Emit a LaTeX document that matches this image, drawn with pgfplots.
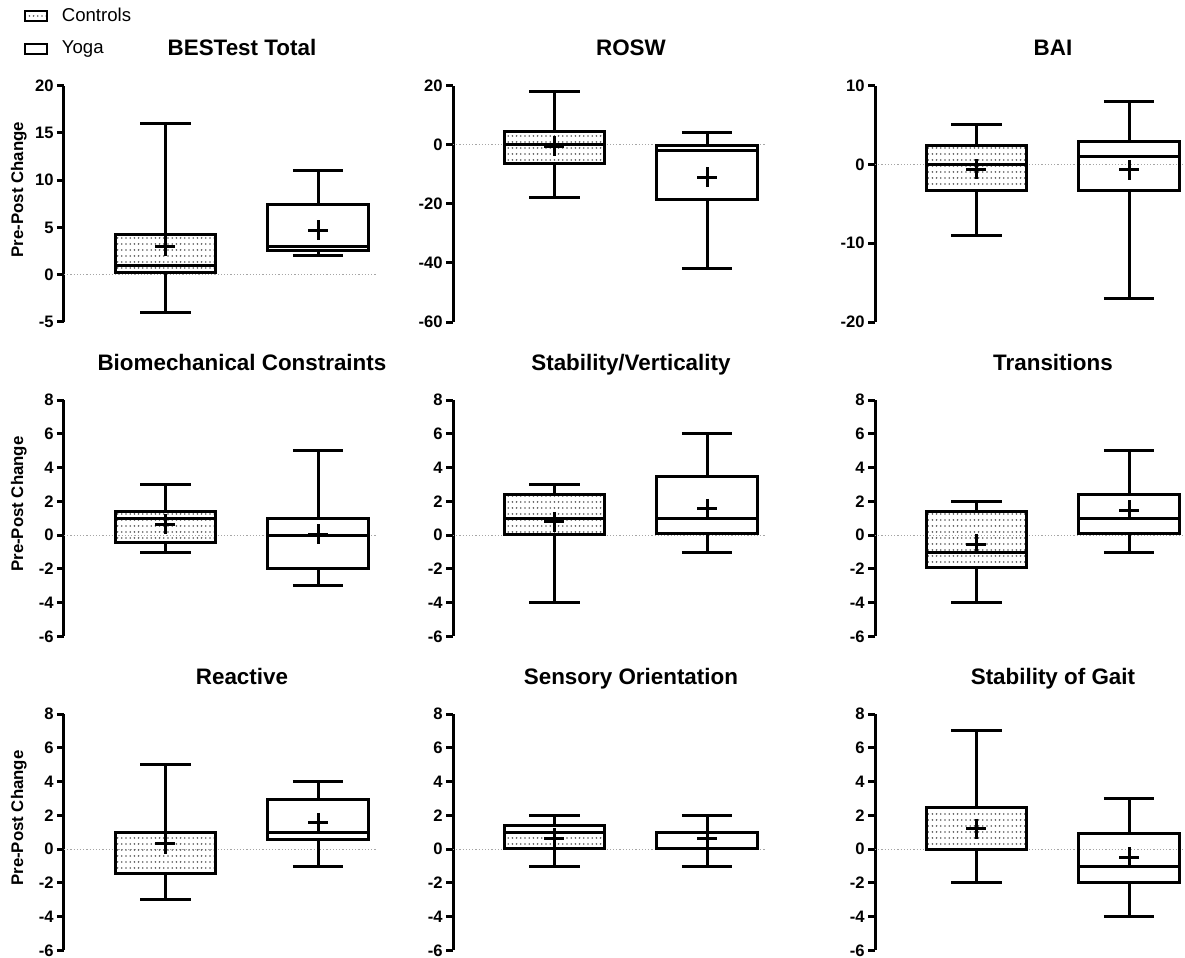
\documentclass[border=0pt]{standalone}
\usepackage{fontspec}
\setmainfont{Liberation Sans}
\usepackage{pgfplots}
\pgfplotsset{compat=1.18}
\usepgfplotslibrary{statistics}
\usetikzlibrary{patterns}
\pgfdeclarepatternformonly{mydots}{\pgfqpoint{-0.5pt}{-0.5pt}}{\pgfqpoint{0.5pt}{0.5pt}}{\pgfqpoint{2.1pt}{3pt}}{\pgfpathcircle{\pgfqpoint{0pt}{0pt}}{0.45pt}\pgfusepath{fill}}
\pgfplotsset{
  panel/.style={
    scale only axis, width=153.1pt, height=118.25pt,
    xmin=0.336, xmax=2.38, clip=false,
    axis x line=none, axis y line*=left,
    axis line style={line width=1.5pt, black},
    ytick style={line width=1.5pt, black},
    tick align=outside, major tick length=3.5pt,
    yticklabel style={font=\bfseries\fontsize{8.3}{9}\selectfont, inner sep=1.5pt},
    /pgf/number format/assume math mode=true,
    title style={at={(axis description cs:0.57,1)}, anchor=base, yshift=9pt, font=\bfseries\fontsize{11.2}{13}\selectfont},
    ylabel style={font=\bfseries\fontsize{8.4}{10}\selectfont, at={(axis description cs:-0.145,0.56)}, anchor=center},
    anchor=north west,
  },
  zeroline/.style={black!35, densely dotted, line width=0.6pt, forget plot},
  bpc/.style={black, solid, line width=1.5pt, forget plot,
    boxplot/draw direction=y,
    boxplot/box extend=0.66, boxplot/whisker extend=0.33,
    boxplot/every box/.style={pattern=mydots, pattern color=black!65},
    boxplot/every average/.style={/tikz/mark=+, /tikz/mark size=5pt, /tikz/line width=1.3pt, /tikz/solid}},
  bpy/.style={black, solid, line width=1.5pt, forget plot,
    boxplot/draw direction=y,
    boxplot/box extend=0.66, boxplot/whisker extend=0.33,
    boxplot/every average/.style={/tikz/mark=+, /tikz/mark size=5pt, /tikz/line width=1.3pt, /tikz/solid}},
}
\begin{document}
\begin{tikzpicture}
\useasboundingbox (0,0) rectangle (592.5pt,-479pt);
% ---------- Row 1 ----------
\begin{axis}[panel, width=156.1pt, at={(32pt,-42.75pt)}, ymin=-5, ymax=20, ytick={-5,0,5,10,15,20},
  title={BESTest Total}, ylabel={Pre-Post Change},
  legend style={at={(axis description cs:-0.149,1.352)}, anchor=north west, draw=none, fill=none,
    font=\fontsize{9.3}{11}\selectfont, row sep=7.5pt, column sep=6.5pt, nodes={inner sep=0.5pt}},
  legend cell align=left]
\addlegendimage{legend image code/.code={\draw[line width=1pt, pattern=mydots, pattern color=black!65] (0pt,-2.6pt) rectangle (11pt,2.6pt);}}
\addlegendentry{Controls}
\addlegendimage{legend image code/.code={\draw[line width=1pt] (0pt,-2.6pt) rectangle (11pt,2.6pt);}}
\addlegendentry{Yoga}
\addplot[zeroline] coordinates {(0.336,0) (2.38,0)};
\addplot[bpc, boxplot prepared={draw position=1, lower whisker=-4, lower quartile=0.2, median=1, upper quartile=4.3, upper whisker=16, average=3}] coordinates {};
\addplot[bpy, boxplot prepared={draw position=2, lower whisker=2, lower quartile=2.6, median=3, upper quartile=7.4, upper whisker=11, average=4.7}] coordinates {};
\end{axis}
\begin{axis}[panel, width=156.1pt, at={(226.5pt,-42.75pt)}, ymin=-60, ymax=20, ytick={-60,-40,-20,0,20}, title={ROSW}]
\addplot[zeroline] coordinates {(0.336,0) (2.38,0)};
\addplot[bpc, boxplot prepared={draw position=1, lower whisker=-18, lower quartile=-6.5, median=0, upper quartile=4.5, upper whisker=18, average=-0.6}] coordinates {};
\addplot[bpy, boxplot prepared={draw position=2, lower whisker=-42, lower quartile=-18.6, median=-2, upper quartile=-0.4, upper whisker=4, average=-11}] coordinates {};
\end{axis}
\begin{axis}[panel, width=156.1pt, at={(437.5pt,-42.75pt)}, ymin=-20, ymax=10, ytick={-20,-10,0,10}, title={BAI}]
\addplot[zeroline] coordinates {(0.336,0) (2.38,0)};
\addplot[bpc, boxplot prepared={draw position=1, lower whisker=-9, lower quartile=-3.3, median=0, upper quartile=2.4, upper whisker=5, average=-0.6}] coordinates {};
\addplot[bpy, boxplot prepared={draw position=2, lower whisker=-17, lower quartile=-3.3, median=1, upper quartile=2.9, upper whisker=8, average=-0.7}] coordinates {};
\end{axis}
% ---------- Row 2 ----------
\begin{axis}[panel, width=156.1pt, at={(32pt,-200pt)}, ymin=-6, ymax=8, ytick={-6,-4,...,8},
  title={Biomechanical Constraints}, ylabel={Pre-Post Change}]
\addplot[zeroline] coordinates {(0.336,0) (2.38,0)};
\addplot[bpc, boxplot prepared={draw position=1, lower whisker=-1, lower quartile=-0.43, median=1, upper quartile=1.42, upper whisker=3, average=0.63}] coordinates {};
\addplot[bpy, boxplot prepared={draw position=2, lower whisker=-3, lower quartile=-2, median=0, upper quartile=1, upper whisker=5, average=0.06}] coordinates {};
\end{axis}
\begin{axis}[panel, width=156.1pt, at={(226.5pt,-200pt)}, ymin=-6, ymax=8, ytick={-6,-4,...,8}, title={Stability/Verticality}]
\addplot[zeroline] coordinates {(0.336,0) (2.38,0)};
\addplot[bpc, boxplot prepared={draw position=1, lower whisker=-4, lower quartile=0.05, median=1, upper quartile=2.43, upper whisker=3, average=0.78}] coordinates {};
\addplot[bpy, boxplot prepared={draw position=2, lower whisker=-1, lower quartile=0.07, median=1, upper quartile=3.45, upper whisker=6, average=1.55}] coordinates {};
\end{axis}
\begin{axis}[panel, width=156.1pt, at={(437.5pt,-200pt)}, ymin=-6, ymax=8, ytick={-6,-4,...,8}, title={Transitions}]
\addplot[zeroline] coordinates {(0.336,0) (2.38,0)};
\addplot[bpc, boxplot prepared={draw position=1, lower whisker=-4, lower quartile=-1.94, median=-1, upper quartile=1.42, upper whisker=2, average=-0.55}] coordinates {};
\addplot[bpy, boxplot prepared={draw position=2, lower whisker=-1, lower quartile=0.07, median=1, upper quartile=2.43, upper whisker=5, average=1.48}] coordinates {};
\end{axis}
% ---------- Row 3 ----------
\begin{axis}[panel, width=156.1pt, at={(32pt,-357pt)}, ymin=-6, ymax=8, ytick={-6,-4,...,8},
  title={Reactive}, ylabel={Pre-Post Change}]
\addplot[zeroline] coordinates {(0.336,0) (2.38,0)};
\addplot[bpc, boxplot prepared={draw position=1, lower whisker=-3, lower quartile=-1.46, median=1, upper quartile=1, upper whisker=5, average=0.32}] coordinates {};
\addplot[bpy, boxplot prepared={draw position=2, lower whisker=-1, lower quartile=0.56, median=1, upper quartile=2.93, upper whisker=4, average=1.55}] coordinates {};
\end{axis}
\begin{axis}[panel, width=156.1pt, at={(226.5pt,-357pt)}, ymin=-6, ymax=8, ytick={-6,-4,...,8}, title={Sensory Orientation}]
\addplot[zeroline] coordinates {(0.336,0) (2.38,0)};
\addplot[bpc, boxplot prepared={draw position=1, lower whisker=-1, lower quartile=0.02, median=1, upper quartile=1.4, upper whisker=2, average=0.65}] coordinates {};
\addplot[bpy, boxplot prepared={draw position=2, lower whisker=-1, lower quartile=0.02, median=1, upper quartile=1, upper whisker=2, average=0.65}] coordinates {};
\end{axis}
\begin{axis}[panel, width=156.1pt, at={(437.5pt,-357pt)}, ymin=-6, ymax=8, ytick={-6,-4,...,8}, title={Stability of Gait}]
\addplot[zeroline] coordinates {(0.336,0) (2.38,0)};
\addplot[bpc, boxplot prepared={draw position=1, lower whisker=-2, lower quartile=0, median=0, upper quartile=2.44, upper whisker=7, average=1.21}] coordinates {};
\addplot[bpy, boxplot prepared={draw position=2, lower whisker=-4, lower quartile=-1.96, median=-1, upper quartile=0.95, upper whisker=3, average=-0.48}] coordinates {};
\end{axis}
\end{tikzpicture}
\end{document}
